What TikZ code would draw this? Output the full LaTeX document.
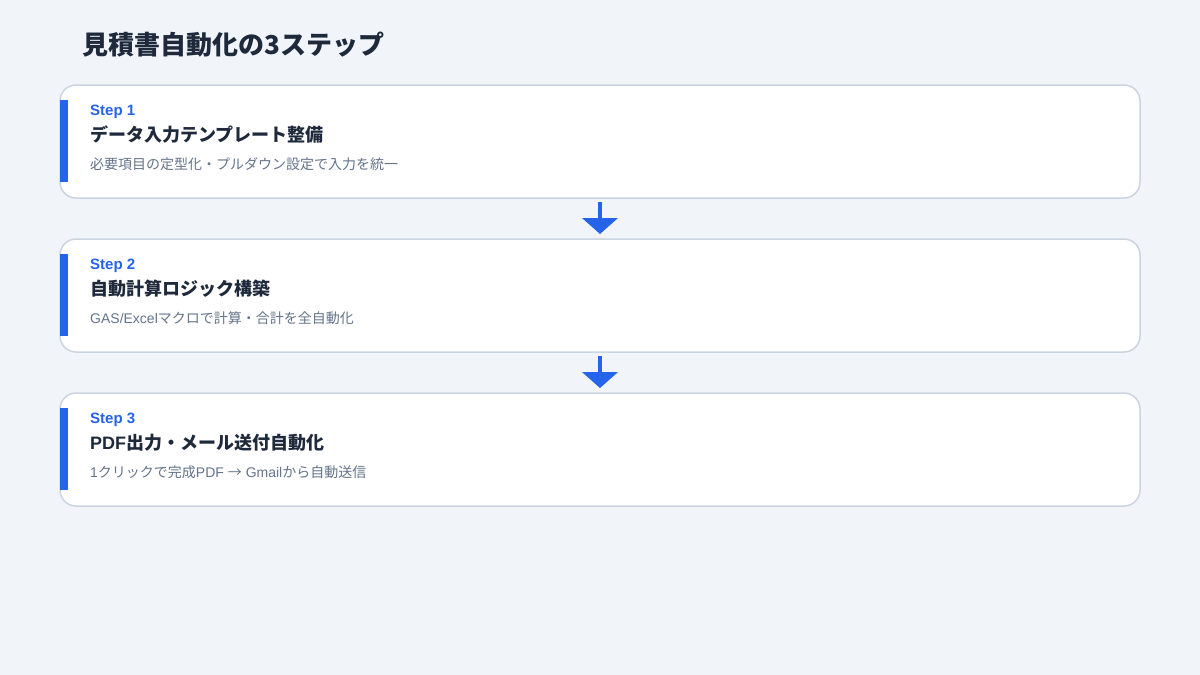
\documentclass[tikz,border=0pt]{standalone}
\usepackage{fontspec}
\setmainfont{Noto Sans CJK JP}
\newfontfamily\lat{Liberation Sans}
\usetikzlibrary{calc}
\definecolor{bgc}{HTML}{F1F4F9}
\definecolor{borderc}{HTML}{CBD5E1}
\definecolor{accent}{HTML}{2563EB}
\definecolor{darkc}{HTML}{1E293B}
\definecolor{grayc}{HTML}{64748B}
\tikzset{
  card/.style={draw=borderc, line width=1.5pt, fill=white, rounded corners=16pt},
  bar/.style={fill=accent, draw=none},
  steplbl/.style={anchor=west, inner sep=0pt, text=accent, font=\fontsize{15}{18}\selectfont\lat\bfseries},
  heading/.style={anchor=west, inner sep=0pt, text=darkc, font=\fontsize{18}{22}\selectfont\bfseries},
  subtxt/.style={anchor=west, inner sep=0pt, text=grayc, font=\fontsize{14}{17}\selectfont},
  titletxt/.style={anchor=west, inner sep=0pt, text=darkc, font=\fontsize{26}{31}\selectfont\bfseries},
  flowarrow/.style={fill=accent, draw=none}
}
\begin{document}
\begin{tikzpicture}[x=1pt,y=-1pt]
\fill[bgc] (0,0) rectangle (1200,675);
\useasboundingbox (0,0) rectangle (1200,675);
\node[titletxt] (title) at (82,45) {見積書自動化の3ステップ};
% cards
\foreach \i/\top/\lab/\head/\sub in {
  1/85/{Step 1}/{データ入力テンプレート整備}/{必要項目の定型化・プルダウン設定で入力を統一},
  2/239/{Step 2}/{自動計算ロジック構築}/{{\lat GAS/Excel}マクロで計算・合計を全自動化},
  3/393/{Step 3}/{{\lat\bfseries PDF}出力・メール送付自動化}/{{\lat 1}クリックで完成{\lat PDF\ }→{\lat\ Gmail}から自動送信}}{
  \draw[card] (60,\top) rectangle (1140,\top+113);
  \coordinate (c\i top) at (600,\top);
  \coordinate (c\i bot) at (600,\top+113);
  \fill[bar] (60,\top+15) rectangle (68,\top+97);
  \node[steplbl] (s\i) at (90,\top+27) {\lab};
  \node[heading] (h\i) at (90,\top+50) {\head};
  \node[subtxt] (d\i) at (90,\top+79) {\sub};
}
% arrows
\foreach \a/\b in {1/2,2/3}{
  \fill[flowarrow] ($(c\a bot)+(-2,4)$) rectangle ($(c\a bot)+(2,21)$);
  \fill[flowarrow] ($(c\a bot)+(-18,20)$) -- ($(c\a bot)+(18,20)$) -- ($(c\b top)+(0,-5)$) -- cycle;
}
\end{tikzpicture}
\end{document}
